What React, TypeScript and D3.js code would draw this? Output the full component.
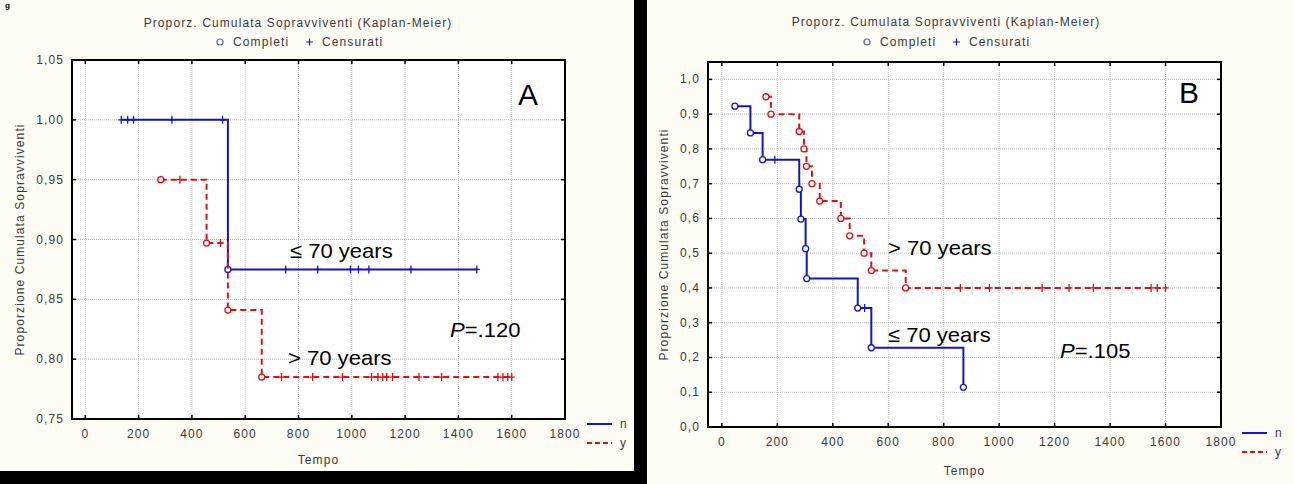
import React from 'react';
import * as d3 from 'd3';

// time axis, shared by both panels
const xTicks = [0, 200, 400, 600, 800, 1000, 1200, 1400, 1600, 1800];
const xDomain = [-50, 1800];

// panel A
const yTicksA = [0.75, 0.8, 0.85, 0.9, 0.95, 1.0, 1.05];
const yDomainA = [0.75, 1.05];
// <= 70 years (n)
const aNEventTimes = [535];
const aNEventSurv = [0.875];
const aNCensored = [135, 159, 181, 325, 515, 752, 872, 995, 1025, 1064, 1222, 1469];
// > 70 years (y)
const aYEventTimes = [283, 455, 535, 662];
const aYEventSurv = [0.95, 0.897, 0.841, 0.785];
const aYCensored = [355, 507, 736, 853, 965, 1074, 1098, 1116, 1131, 1153, 1252, 1337, 1548, 1567, 1585, 1600];

// panel B
const yTicksB = [0, 0.1, 0.2, 0.3, 0.4, 0.5, 0.6, 0.7, 0.8, 0.9, 1.0];
const yDomainB = [0, 1.05];
const bNEventTimes = [47, 103, 147, 279, 285, 302, 306, 490, 539, 871];
const bNEventSurv = [0.923, 0.846, 0.769, 0.684, 0.598, 0.513, 0.427, 0.342, 0.228, 0.114];
const bNCensored = [191, 515];
const bYEventTimes = [159, 177, 279, 296, 305, 325, 353, 429, 461, 513, 539, 663];
const bYEventSurv = [0.95, 0.9, 0.85, 0.8, 0.75, 0.7, 0.65, 0.6, 0.55, 0.5, 0.45, 0.4];
const bYCensored = [860, 965, 1155, 1252, 1340, 1548, 1570, 1600];

const BLUE = '#1414c8';
const RED = '#e01010';
const TXT = '#3a3a3a';
const FONT = '"Liberation Sans", Arial, sans-serif';

type Series = {times: number[], surv: number[], censored: number[], color: string, dash?: string};

const survAt = (s: Series, t: number) => {
    let v = 1;
    s.times.forEach((e, i) => { if (e <= t) v = s.surv[i]; });
    return v;
};

const stepLine = d3.line<[number, number]>().curve(d3.curveStepAfter);

let SmallText = props => {
    let {x, y, anchor, children, rotate} = props;
    return <text transform={`translate(${x},${y})${rotate ? ' rotate(-90)' : ''}`} textAnchor={anchor || 'start'}
                 fontFamily={FONT} fontSize={12} letterSpacing={1.1} fill={TXT}>{children}</text>;
};

let BigText = props => {
    let {x, y, size, children} = props;
    return <text transform={`translate(${x},${y}) scale(1.05,1)`} fontFamily={FONT} fontSize={size || 21}
                 fill="#000">{children}</text>;
};

let Panel = props => {
    let {frame, yDomain, yTicks, yFmt, series, title, legend, tempoY, yTitleX, legendBox, children} = props;
    let x = d3.scaleLinear().domain(xDomain).range([frame.left, frame.right]);
    let y = d3.scaleLinear().domain(yDomain).range([frame.bottom, frame.top]);
    let fmt = (v: number) => d3.format(yFmt)(v).replace('.', ',');

    return <g>
        <rect x={frame.left} y={frame.top} width={frame.right - frame.left} height={frame.bottom - frame.top} fill="#fff"/>
        {/* grid */}
        <g stroke="#bdbdbd" strokeWidth={1} strokeDasharray="1,1">
            {xTicks.map((t, i) => <line key={i} x1={x(t)} x2={x(t)} y1={frame.top} y2={frame.bottom}/>)}
            {yTicks.filter(t => t < yDomain[1] - 1e-9).map((t, i) => <line key={i} x1={frame.left} x2={frame.right} y1={y(t)} y2={y(t)}/>)}
        </g>
        {/* tick marks */}
        <g stroke="#000" strokeWidth={1.5}>
            {xTicks.map((t, i) => <g key={i}>
                <line x1={x(t)} x2={x(t)} y1={frame.bottom} y2={frame.bottom - 4}/>
                <line x1={x(t)} x2={x(t)} y1={frame.top} y2={frame.top + 4}/>
            </g>)}
            {yTicks.map((t, i) => <g key={i}>
                <line x1={frame.left} x2={frame.left + 4} y1={y(t)} y2={y(t)}/>
                <line x1={frame.right} x2={frame.right - 4} y1={y(t)} y2={y(t)}/>
            </g>)}
        </g>
        {/* series */}
        {series.map((s: Series, i: number) => {
            let start = Math.min(s.times[0], s.censored[0]);
            let end = Math.max(s.times[s.times.length - 1], s.censored[s.censored.length - 1]);
            let pts: [number, number][] = [[start, survAt(s, start)]];
            s.times.forEach((t, j) => { if (t > start) pts.push([t, s.surv[j]]); });
            pts.push([end, survAt(s, end)]);
            let d = stepLine(pts.map(p => [x(p[0]), y(p[1])] as [number, number]));
            return <g key={i}>
                <path d={d} fill="none" stroke={s.color} strokeWidth={2} strokeDasharray={s.dash}/>
                {s.censored.map((c, j) => {
                    let cx = x(c), cy = y(survAt(s, c));
                    return <path key={j} d={`M${cx - 3},${cy}H${cx + 3}M${cx},${cy - 4}V${cy + 4}`} stroke={s.color} strokeWidth={1.3}/>;
                })}
                {s.times.map((t, j) => <circle key={j} cx={x(t)} cy={y(s.surv[j])} r={3} fill="#fff" stroke={s.color} strokeWidth={1.3}/>)}
            </g>;
        })}
        <rect x={frame.left} y={frame.top} width={frame.right - frame.left} height={frame.bottom - frame.top}
              fill="none" stroke="#000" strokeWidth={2}/>
        {/* axes labels */}
        {xTicks.map((t, i) => <SmallText key={i} x={x(t)} y={frame.bottom + 19} anchor="middle">{t}</SmallText>)}
        {yTicks.map((t, i) => <SmallText key={i} x={frame.left - 8} y={y(t) + 4} anchor="end">{fmt(t)}</SmallText>)}
        <SmallText x={(frame.left + frame.right) / 2} y={tempoY} anchor="middle">Tempo</SmallText>
        <SmallText x={yTitleX} y={(frame.top + frame.bottom) / 2} anchor="middle" rotate>Proporzione Cumulata Sopravviventi</SmallText>
        <SmallText x={title.x} y={title.y} anchor="middle">Proporz. Cumulata Sopravviventi (Kaplan-Meier)</SmallText>
        {/* top legend */}
        <g>
            <circle cx={legend.x} cy={legend.y - 4} r={3} fill="none" stroke="#5a6aa8" strokeWidth={1.2}/>
            <SmallText x={legend.x + 13} y={legend.y}>Completi</SmallText>
            <path d={`M${legend.x + 86},${legend.y - 4}h7M${legend.x + 89.5},${legend.y - 7.5}v7`} stroke={BLUE} strokeWidth={1.2}/>
            <SmallText x={legend.x + 102} y={legend.y}>Censurati</SmallText>
        </g>
        {/* bottom-right legend */}
        <g>
            <line x1={legendBox.x} x2={legendBox.x + 25} y1={legendBox.y} y2={legendBox.y} stroke={BLUE} strokeWidth={2}/>
            <line x1={legendBox.x} x2={legendBox.x + 25} y1={legendBox.y + 19} y2={legendBox.y + 19} stroke={RED} strokeWidth={2} strokeDasharray="5,3"/>
            <SmallText x={legendBox.x + 33} y={legendBox.y + 4}>n</SmallText>
            <SmallText x={legendBox.x + 33} y={legendBox.y + 23}>y</SmallText>
        </g>
        {children}
    </g>;
};

const App = () => {
    let seriesA: Series[] = [
        {times: aNEventTimes, surv: aNEventSurv, censored: aNCensored, color: BLUE},
        {times: aYEventTimes, surv: aYEventSurv, censored: aYCensored, color: RED, dash: '6,4'},
    ];
    let seriesB: Series[] = [
        {times: bNEventTimes, surv: bNEventSurv, censored: bNCensored, color: BLUE},
        {times: bYEventTimes, surv: bYEventSurv, censored: bYCensored, color: RED, dash: '6,4'},
    ];

    return (
        <svg width={1294} height={484} style={{position: 'absolute', left: 0, top: 0}}>
            <rect x={0} y={0} width={1294} height={484} fill="#fcfbf4"/>
            <text x={5} y={8} fontFamily={FONT} fontWeight="bold" fontSize={8} fill="#000">g</text>
            <Panel frame={{left: 72, right: 565, top: 60, bottom: 419}} yDomain={yDomainA} yTicks={yTicksA} yFmt=".2f"
                   series={seriesA} title={{x: 298, y: 27}} legend={{x: 220, y: 46}} tempoY={464} yTitleX={24}
                   legendBox={{x: 587, y: 424}}>
                <text transform="translate(518,105)" fontFamily={FONT} fontSize={30} fill="#000">A</text>
                <BigText x={290} y={258}>{'\u2264 70 years'}</BigText>
                <BigText x={288} y={365}>{'> 70 years'}</BigText>
                <text transform="translate(450,337) scale(1.05,1)" fontFamily={FONT} fontSize={21} fill="#000">
                    <tspan fontStyle="italic">P</tspan>=.120</text>
            </Panel>
            <Panel frame={{left: 708, right: 1221, top: 62, bottom: 427}} yDomain={yDomainB} yTicks={yTicksB} yFmt=".1f"
                   series={seriesB} title={{x: 946, y: 26}} legend={{x: 867, y: 46}} tempoY={475} yTitleX={668}
                   legendBox={{x: 1242, y: 433}}>
                <text transform="translate(1179,103)" fontFamily={FONT} fontSize={30} fill="#000">B</text>
                <BigText x={888} y={255}>{'> 70 years'}</BigText>
                <BigText x={888} y={342}>{'\u2264 70 years'}</BigText>
                <text transform="translate(1060,358) scale(1.05,1)" fontFamily={FONT} fontSize={21} fill="#000">
                    <tspan fontStyle="italic">P</tspan>=.105</text>
            </Panel>
            <rect x={634} y={0} width={13} height={484} fill="#000"/>
            <rect x={0} y={471} width={640} height={13} fill="#000"/>
        </svg>
    );
};

export default App;
